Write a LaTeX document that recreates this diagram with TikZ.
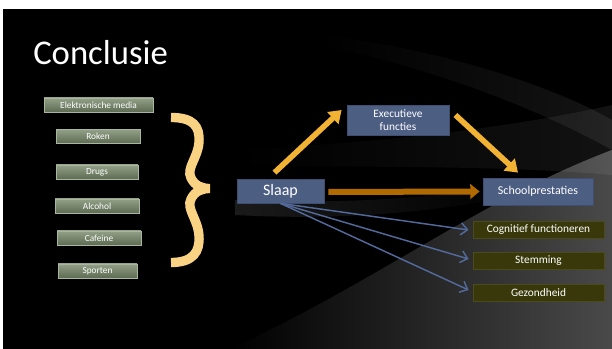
\documentclass[tikz,border=0pt]{standalone}
\usepackage{fontspec}
\setmainfont{Carlito}
\usetikzlibrary{arrows.meta,calc,fadings}
\definecolor{gbtop}{HTML}{92A087}
\definecolor{gbbot}{HTML}{5C6B52}
\definecolor{gbdraw}{HTML}{A9B59F}
\definecolor{bluefill}{HTML}{4D5E83}
\definecolor{bluedraw}{HTML}{3F4E70}
\definecolor{olivefill}{HTML}{38380A}
\definecolor{olivedraw}{HTML}{4A4A1A}
\definecolor{bracecol}{HTML}{F9D383}
\definecolor{yelarrow}{HTML}{F2B233}
\definecolor{brownarrow}{HTML}{B06A00}
\definecolor{bluearrow}{HTML}{52699A}
\definecolor{bgA}{HTML}{4A4A4A}
\begin{document}
\begin{tikzpicture}[x=0.75pt,y=-0.75pt,
  greenbox/.style={draw=gbdraw, top color=gbtop, bottom color=gbbot, text=white,
    font=\fontsize{7}{8}\selectfont, inner sep=0pt, line width=0.4pt, minimum height=10.5pt},
  bluebox/.style={draw=bluedraw, fill=bluefill, text=white, inner sep=0pt, line width=0.6pt, align=center},
  olivebox/.style={draw=olivedraw, fill=olivefill, text=white, inner sep=0pt, line width=0.6pt,
    minimum width=98.25pt, minimum height=12.75pt, font=\fontsize{8.5}{10}\selectfont},
  yarrow/.style={draw=yelarrow, line width=4.2pt, -{Triangle[length=9pt,width=12pt]}},
  barrow/.style={draw=brownarrow, line width=4.5pt, -{Triangle[length=7pt,width=11pt]}},
  larrow/.style={draw=bluearrow, line width=1.1pt, -{Straight Barb[length=5pt,width=9pt]}}
]
\useasboundingbox (0,0) rectangle (612,349);
\fill[white] (0,0) rectangle (612,349);
\fill[black] (3,9) rectangle (612,349);
% background swooshes
\fill[bgA, path fading=west] (230,349) .. controls (380,280) and (480,200) .. (612,150) -- (612,349) -- cycle;
\fill[white, opacity=0.08, path fading=west] (320,35) .. controls (450,50) and (560,90) .. (612,120) -- (612,150) .. controls (540,110) and (440,70) .. (320,45) -- cycle;
\fill[white, opacity=0.07, path fading=west] (240,150) .. controls (380,142) and (500,130) .. (612,105) -- (612,175) .. controls (500,165) and (380,168) .. (240,165) -- cycle;
\fill[white, opacity=0.10, path fading=east] (235,200) .. controls (330,204) and (420,200) .. (520,185) -- (520,195) .. controls (420,215) and (330,220) .. (235,215) -- cycle;

% title
\node[anchor=base west, text=white, font=\fontsize{26}{30}\selectfont, inner sep=0pt] (title) at (33,65) {Conclusie};

% left factors
\node[greenbox, minimum width=81.75pt] (media) at (98.5,105) {Elektronische media};
\node[greenbox, minimum width=63pt] (roken) at (98,136.5) {Roken};
\node[greenbox, minimum width=61.5pt] (drugs) at (97,172) {Drugs};
\node[greenbox, minimum width=63pt] (alcohol) at (97,206) {Alcohol};
\node[greenbox, minimum width=63pt] (cafeine) at (99,238) {Cafeine};
\node[greenbox, minimum width=59.25pt] (sporten) at (97.5,271) {Sporten};

% brace
\coordinate (bt) at (171,117.5);
\coordinate (bm) at (210,188.5);
\coordinate (bb) at (171,262.5);
\draw[bracecol, line width=7pt, line join=miter]
  (bt) .. controls (193,117.5) and (200,126) .. (199,142)
  .. controls (198,158) and (186,168) .. (191,178)
  .. controls (195,186) and (202,188.5) .. (bm)
  .. controls (202,188.5) and (195,191) .. (191,199)
  .. controls (186,209) and (198,219) .. (199,236)
  .. controls (200,252) and (193,262.5) .. (bb);

% central nodes
\node[bluebox, minimum width=65.25pt, minimum height=18pt, font=\fontsize{12}{14}\selectfont] (slaap) at (280.5,191) {Slaap};
\node[bluebox, minimum width=76.5pt, minimum height=22.5pt, font=\fontsize{8.5}{10}\selectfont] (exec) at (398,120) {Executieve\\functies};
\node[bluebox, minimum width=82.5pt, minimum height=20.25pt, font=\fontsize{9}{11}\selectfont] (school) at (538,191.5) {Schoolprestaties};

\node[olivebox] (cog) at (538.5,229.5) {Cognitief functioneren};
\node[olivebox] (stem) at (538.5,260.5) {Stemming};
\node[olivebox] (gez) at (538.5,292.5) {Gezondheid};

% arrows
\draw[yarrow] ($(slaap.north)+(-6,-6)$) -- ($(exec.west)+(-5,-10)$);
\draw[yarrow] ($(exec.east)+(6,-5)$) -- ($(school.north)+(-20,-5)$);
\draw[barrow] ($(slaap.east)+(4,1)$) -- ($(school.west)+(-3,0)$);
\draw[larrow] (slaap.south) -- ($(cog.west)+(-4,0.5)$);
\draw[larrow] (slaap.south) -- ($(stem.west)+(-4,-1.5)$);
\draw[larrow] (slaap.south) -- ($(gez.west)+(-4,-2.5)$);
\end{tikzpicture}
\end{document}
